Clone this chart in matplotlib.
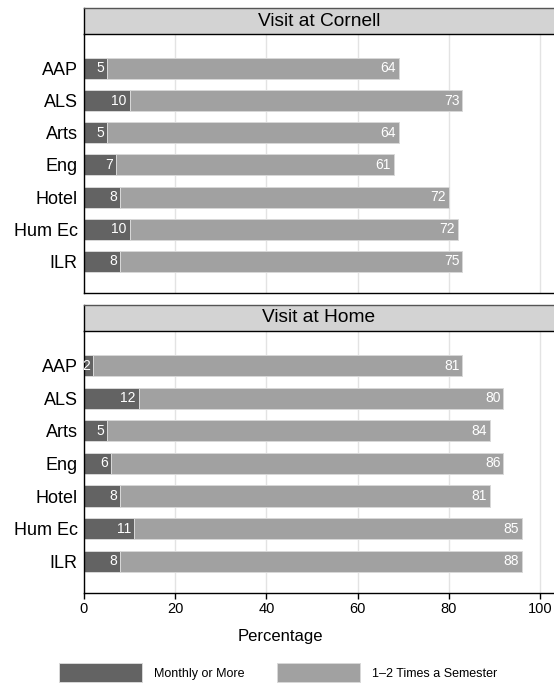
import matplotlib
matplotlib.use("Agg")
import matplotlib.pyplot as plt
import numpy as np

plt.rcParams["font.family"] = ["Liberation Sans", "DejaVu Sans"]

colleges = ["AAP", "ALS", "Arts", "Eng", "Hotel", "Hum Ec", "ILR"]
panel_titles = ["Visit at Cornell", "Visit at Home"]
series_names = ["Monthly or More", "1\u20132 Times a Semester"]

cornell_monthly = [5, 10, 5, 7, 8, 10, 8]
cornell_semester = [64, 73, 64, 61, 72, 72, 75]
home_monthly = [2, 12, 5, 6, 8, 11, 8]
home_semester = [81, 80, 84, 86, 81, 85, 88]

x_ticks = [0, 20, 40, 60, 80, 100]

DARK = "#636363"
LIGHT = "#a1a1a1"
STRIP = "#d3d3d3"
GRID = "#e3e3e3"

W, H = 554, 683
fig = plt.figure(figsize=(W / 100, H / 100), dpi=100)


def fbox(x0, y0, x1, y1):
    # pixel box (top-left origin) -> figure fraction rect
    return [x0 / W, 1 - y1 / H, (x1 - x0) / W, (y1 - y0) / H]


layout = [
    ((84, 8, 554, 34), (84, 34, 554, 293)),
    ((84, 305, 554, 331), (84, 331, 554, 593)),
]
data = [
    (cornell_monthly, cornell_semester),
    (home_monthly, home_semester),
]

y = np.arange(len(colleges))
handles = None
for i, ((sbox, pbox), (monthly, semester), title) in enumerate(zip(layout, data, panel_titles)):
    ax = fig.add_axes(fbox(*pbox))
    ax.set_xlim(0, 103.1)
    ax.set_ylim(6.98, -1.07)
    ax.set_xticks(x_ticks)
    ax.grid(axis="x", color=GRID, lw=1.0)
    ax.set_axisbelow(True)
    b1 = ax.barh(y, monthly, height=0.65, color=DARK, edgecolor="#d8d8d8", lw=0.7)
    b2 = ax.barh(y, semester, left=monthly, height=0.65, color=LIGHT, edgecolor="#d8d8d8", lw=0.7)
    handles = (b1, b2)
    for bars in (b1, b2):
        for rect in bars:
            ax.annotate(f"{rect.get_width():g}",
                        (rect.get_x() + rect.get_width(), rect.get_y() + rect.get_height() / 2),
                        xytext=(-3, 0), textcoords="offset pixels",
                        ha="right", va="center", color="white", fontsize=10,
                        annotation_clip=False, clip_on=True)
    ax.set_yticks(y)
    ax.set_yticklabels(colleges, fontsize=13)
    ax.tick_params(axis="y", length=0, pad=4.5)
    for side in ("top", "right"):
        ax.spines[side].set_visible(False)
    for side in ("left", "bottom"):
        ax.spines[side].set_color("black")
        ax.spines[side].set_linewidth(1.0)
    if i == 0:
        ax.tick_params(axis="x", length=0, labelbottom=False)
    else:
        ax.tick_params(axis="x", length=4.5, width=1.0, labelsize=10.5, pad=2)

    sax = fig.add_axes(fbox(*sbox))
    sax.set_facecolor(STRIP)
    sax.set_xticks([])
    sax.set_yticks([])
    sax.set_xlim(0, 103.1)
    sax.spines["right"].set_visible(False)
    sax.spines["top"].set_color("#555555")
    sax.spines["left"].set_color("black")
    sax.spines["bottom"].set_color("black")
    for sp in sax.spines.values():
        sp.set_linewidth(1.0)
    sax.text(0.5, 0.5, title, transform=sax.transAxes, ha="center", va="center", fontsize=13.8)

fig.text(280 / W, 1 - 636 / H, "Percentage", ha="center", va="center", fontsize=12)

fig.legend(handles, series_names, loc="upper left", bbox_to_anchor=(59 / W, 1 - 663 / H),
           ncol=2, frameon=False, fontsize=9, handlelength=6.6, handleheight=2.0,
           handletextpad=1.0, columnspacing=2.6, borderpad=0, borderaxespad=0)

fig.savefig("out.png", dpi=100)
